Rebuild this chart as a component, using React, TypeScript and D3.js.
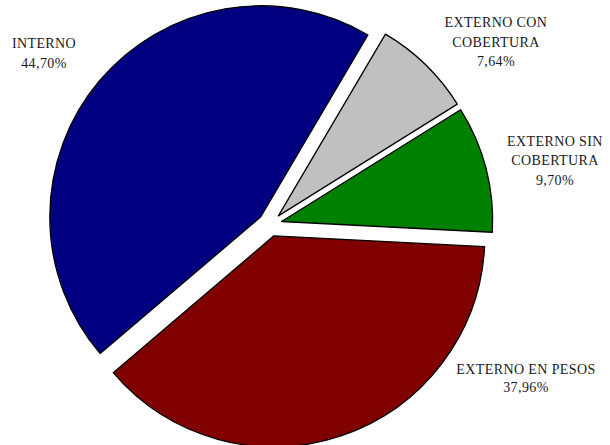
import React from "react";
import * as d3 from "d3";

const categories = ["EXTERNO CON COBERTURA", "EXTERNO SIN COBERTURA", "EXTERNO EN PESOS", "INTERNO"];
const values = [7.64, 9.7, 37.96, 44.7];
const labelLines = [
  ["EXTERNO CON", "COBERTURA", "7,64%"],
  ["EXTERNO SIN", "COBERTURA", "9,70%"],
  ["EXTERNO EN PESOS", "37,96%"],
  ["INTERNO", "44,70%"],
];
const colors = ["#C0C0C0", "#008000", "#800000", "#000080"];

// layout
const W = 610;
const H = 445;
const CX = 270;
const CY = 224.5;
const R = 211;
const EXPLODE = 12;
const START_DEG = 30.5;
const labelPos = [
  { x: 496, y: 27 },
  { x: 555, y: 146 },
  { x: 526, y: 374 },
  { x: 44, y: 48 },
];
const lineGap = [19.5, 19.3, 18, 19.5];

export default function App() {
  const start = (START_DEG * Math.PI) / 180;
  const pie = d3
    .pie<number>()
    .sort(null)
    .value((d) => d)
    .startAngle(start)
    .endAngle(start + 2 * Math.PI);
  const arcs = pie(values);
  const arcGen = d3.arc<d3.PieArcDatum<number>>().innerRadius(0).outerRadius(R);

  return (
    <svg
      width={W}
      height={H}
      style={{ position: "absolute", left: 0, top: 0, background: "#fff" }}
    >
      <g transform={`translate(${CX},${CY})`}>
        {arcs.map((a, i) => {
          const mid = (a.startAngle + a.endAngle) / 2;
          const dx = EXPLODE * Math.sin(mid);
          const dy = -EXPLODE * Math.cos(mid);
          return (
            <path
              key={categories[i]}
              d={arcGen(a) || ""}
              transform={`translate(${dx},${dy})`}
              fill={colors[i]}
              stroke="#000"
              strokeWidth={1.3}
              strokeLinejoin="round"
            />
          );
        })}
      </g>
      {labelLines.map((lines, i) => (
        <text
          key={categories[i]}
          x={labelPos[i].x}
          y={labelPos[i].y}
          textAnchor="middle"
          fontFamily="'Liberation Serif', 'Times New Roman', serif"
          fontSize={14}
          letterSpacing={0.4}
          fill="#1a1a1a"
        >
          {lines.map((l, j) => (
            <tspan key={j} x={labelPos[i].x} y={labelPos[i].y + j * lineGap[i]}>
              {l}
            </tspan>
          ))}
        </text>
      ))}
    </svg>
  );
}
